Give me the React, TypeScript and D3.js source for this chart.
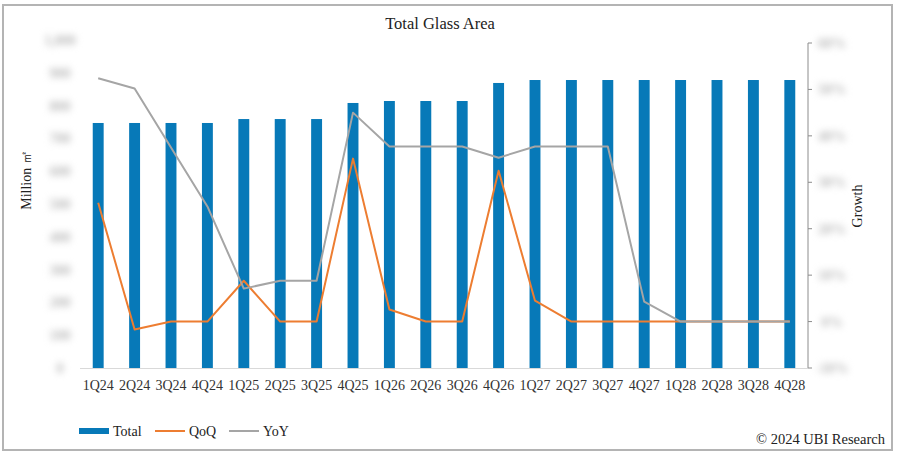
import React, { useEffect, useRef } from 'react';
import * as d3 from 'd3';

const quarters = [
  '1Q24', '2Q24', '3Q24', '4Q24', '1Q25', '2Q25', '3Q25', '4Q25', '1Q26', '2Q26',
  '3Q26', '4Q26', '1Q27', '2Q27', '3Q27', '4Q27', '1Q28', '2Q28', '3Q28', '4Q28',
];
const total = [747, 747, 747, 747, 759, 759, 759, 808, 814, 814, 814, 869, 878, 878, 878, 878, 878, 878, 878, 878];
const qoq = [25.6, -1.7, 0, 0, 8.8, 0, 0, 35.1, 2.6, 0, 0, 32.5, 4.5, 0, 0, 0, 0, 0, 0, 0];
const yoy = [52.4, 50.2, 37.5, 24.8, 7.1, 8.8, 8.8, 45.0, 37.7, 37.7, 37.7, 35.3, 37.7, 37.7, 37.7, 4.3, 0, 0, 0, 0];
const leftTicks = d3.range(0, 1001, 100);
const rightTicks = d3.range(-10, 61, 10);

export default function App() {
  const svgRef = useRef<SVGSVGElement>(null);

  useEffect(() => {
    const width = 897;
    const height = 454;
    const left = 80;
    const right = 808;
    const bottom = 368;
    const font = '"Liberation Serif", "Times New Roman", serif';

    const svg = d3.select(svgRef.current).attr('width', width).attr('height', height);
    svg.selectAll('*').remove();

    svg.append('rect').attr('x', 0).attr('y', 0).attr('width', width).attr('height', height).attr('fill', '#fff');
    svg.append('rect')
      .attr('x', 3).attr('y', 5).attr('width', 889).attr('height', 445)
      .attr('fill', 'none').attr('stroke', '#b4b4b4').attr('stroke-width', 2);

    const x = d3.scaleBand<string>().domain(quarters).range([left, right]).paddingInner(0.7).paddingOuter(0.35);
    const yL = d3.scaleLinear().domain([0, 1000]).range([bottom, 40]);
    const yR = d3.scaleLinear().domain([-10, 60]).range([bottom, 43]);
    const cx = (d: string) => (x(d) as number) + x.bandwidth() / 2;

    svg.append('text').attr('x', 440).attr('y', 29).attr('text-anchor', 'middle')
      .style('font-family', font).style('font-size', '16.5px').attr('fill', '#222').text('Total Glass Area');

    // tick labels are blurred out in the source image
    const blurred = svg.append('g').style('filter', 'blur(3.5px)');
    blurred.selectAll('text.l').data(leftTicks).enter().append('text').attr('class', 'l')
      .attr('x', 60).attr('y', (d) => yL(d) + 5).attr('text-anchor', 'middle')
      .style('font-family', font).style('font-size', '14px').style('font-weight', 'bold').attr('fill', '#b8b8b8')
      .text((d) => d3.format(',')(d));
    blurred.selectAll('text.r').data(rightTicks).enter().append('text').attr('class', 'r')
      .attr('x', 832).attr('y', (d) => yR(d) + 5).attr('text-anchor', 'middle')
      .style('font-family', font).style('font-size', '14px').style('font-weight', 'bold').attr('fill', '#b8b8b8')
      .text((d) => `${d}%`);

    // right axis
    const ra = svg.append('g');
    ra.append('line').attr('x1', right).attr('x2', right).attr('y1', yR(60)).attr('y2', bottom)
      .attr('stroke', '#8c8c8c').attr('stroke-width', 1);
    ra.selectAll('line.tk').data(rightTicks).enter().append('line').attr('class', 'tk')
      .attr('x1', right).attr('x2', right + 4).attr('y1', (d) => yR(d)).attr('y2', (d) => yR(d))
      .attr('stroke', '#8c8c8c');

    // x axis line
    svg.append('line').attr('x1', left).attr('x2', right).attr('y1', bottom + 0.5).attr('y2', bottom + 0.5)
      .attr('stroke', '#d9d9d9').attr('stroke-width', 1.2);

    // bars
    svg.append('g').selectAll('rect').data(total).enter().append('rect')
      .attr('x', (d, i) => x(quarters[i]) as number)
      .attr('y', (d) => yL(d))
      .attr('width', x.bandwidth())
      .attr('height', (d) => bottom - yL(d))
      .attr('fill', '#0779b8');

    const line = d3.line<number>().x((d, i) => cx(quarters[i])).y((d) => yR(d));
    svg.append('path').datum(qoq).attr('d', line).attr('fill', 'none')
      .attr('stroke', '#ed7d31').attr('stroke-width', 2).attr('stroke-linejoin', 'round');
    svg.append('path').datum(yoy).attr('d', line).attr('fill', 'none')
      .attr('stroke', '#a5a5a5').attr('stroke-width', 2).attr('stroke-linejoin', 'round');

    // x labels
    svg.append('g').selectAll('text').data(quarters).enter().append('text')
      .attr('x', (d) => cx(d)).attr('y', 390).attr('text-anchor', 'middle')
      .style('font-family', font).style('font-size', '14px').attr('fill', '#333').text((d) => d);

    // axis titles
    svg.append('text').attr('transform', 'translate(31,180) rotate(-90)').attr('text-anchor', 'middle')
      .style('font-family', font).style('font-size', '14px').attr('fill', '#222').text('Million ㎡');
    svg.append('text').attr('transform', 'translate(862,206) rotate(-90)').attr('text-anchor', 'middle')
      .style('font-family', font).style('font-size', '14px').attr('fill', '#222').text('Growth');

    // legend
    const lg = svg.append('g').style('font-family', font).style('font-size', '14px').attr('fill', '#222');
    lg.append('rect').attr('x', 79).attr('y', 428).attr('width', 30).attr('height', 6).attr('fill', '#0779b8');
    lg.append('text').attr('x', 113).attr('y', 436).text('Total');
    lg.append('line').attr('x1', 155).attr('x2', 185).attr('y1', 431).attr('y2', 431).attr('stroke', '#ed7d31').attr('stroke-width', 2);
    lg.append('text').attr('x', 189).attr('y', 436).text('QoQ');
    lg.append('line').attr('x1', 229).attr('x2', 259).attr('y1', 431).attr('y2', 431).attr('stroke', '#a5a5a5').attr('stroke-width', 2);
    lg.append('text').attr('x', 263).attr('y', 436).text('YoY');

    svg.append('text').attr('x', 885).attr('y', 444).attr('text-anchor', 'end')
      .style('font-family', font).style('font-size', '14.5px').attr('fill', '#222').text('© 2024 UBI Research');
  }, []);

  return (
    <div style={{ position: 'absolute', left: 0, top: 0 }}>
      <svg ref={svgRef}></svg>
    </div>
  );
}
